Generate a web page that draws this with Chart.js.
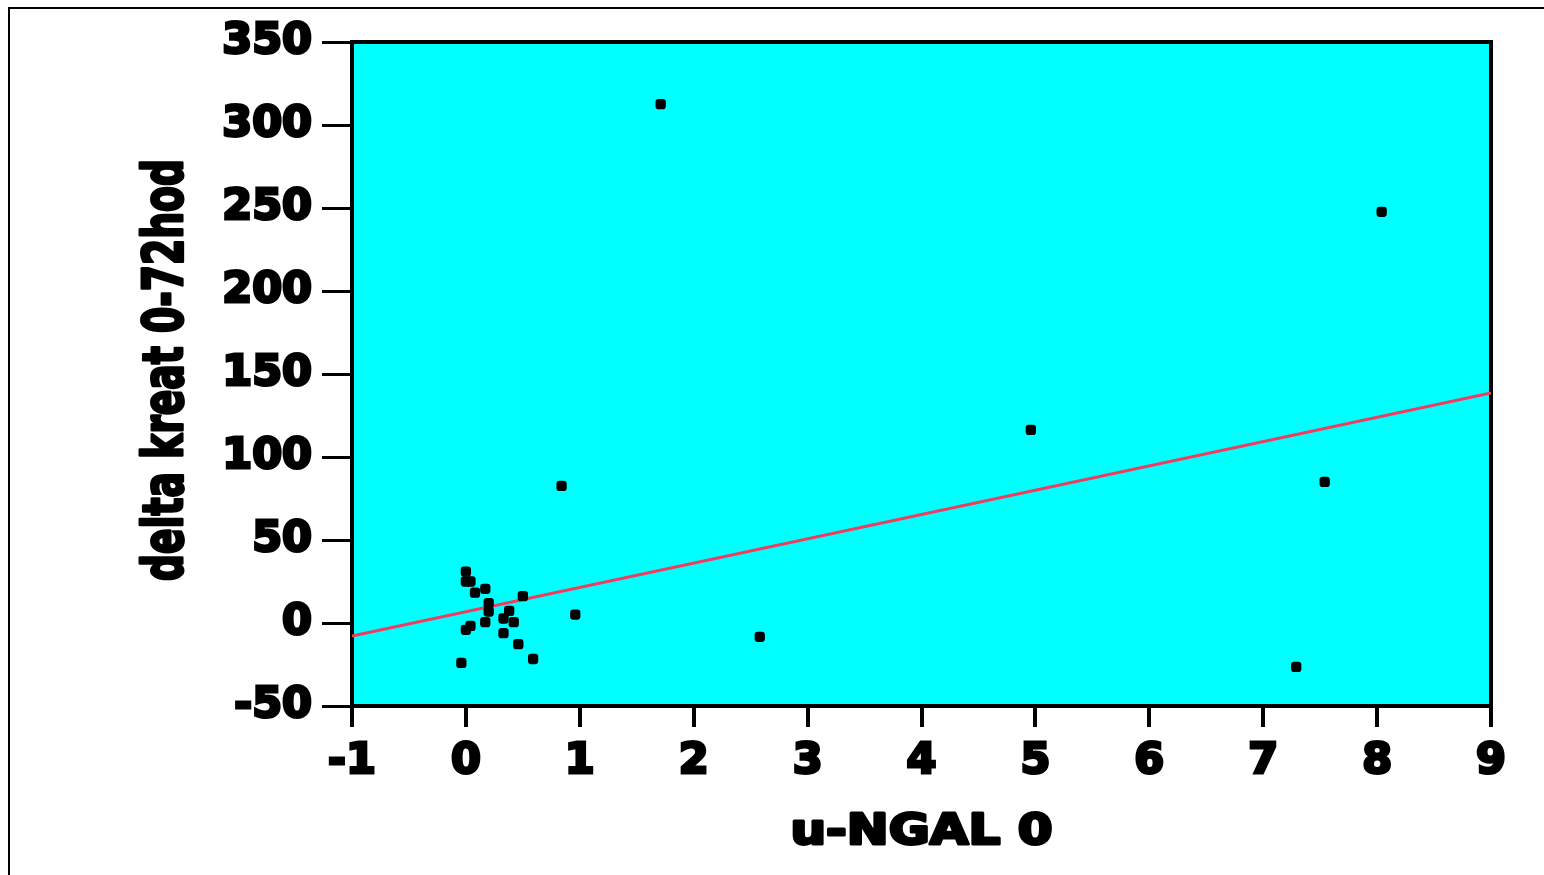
<!DOCTYPE html>
<html>
<head>
<meta charset="utf-8">
<script src="https://cdn.jsdelivr.net/npm/chart.js@4"></script>
<style>
    html, body { margin: 0; padding: 0; background: #ffffff; }
    #box { width: 1544px; height: 875px; }
</style>
</head>
<body>
<div id="box"><canvas id="scatterChart"></canvas></div>
<script>
// u-NGAL 0 values and delta kreat 0-72hod
var ngal = [0.00, 0.00, 0.04, 0.08, 0.17, 0.50, 0.20, 0.20, 0.38, 0.33, 0.42, 0.17, 0.04, 0.00, 0.33, 0.46, 0.59, -0.04, 0.96,
            1.71, 0.84, 2.58, 4.96, 7.29, 7.54, 8.04];
var kreat = [31.0, 25.0, 25.0, 18.3, 20.6, 16.2, 11.9, 6.9, 7.3, 2.7, 0.5, 0.5, -1.7, -4.1, -6.1, -12.7, -21.7, -24.0, 5.1,
             312.6, 82.6, -8.3, 116.3, -26.4, 85.0, 247.7];

// fitted line end points
var fitX = [-1, 9];
var fitY = [-7.8, 138.5];

var xTicks = [-1, 0, 1, 2, 3, 4, 5, 6, 7, 8, 9];
var yTicks = [-50, 0, 50, 100, 150, 200, 250, 300, 350];

var xTitle = "u-NGAL 0";
var yTitle = "delta kreat 0-72hod";

var points = [];
for (var i = 0; i < ngal.length; i++)
{
    points.push({x: ngal[i], y: kreat[i]});
}
var fitPoints = [];
for (var j = 0; j < fitX.length; j++)
{
    fitPoints.push({x: fitX[j], y: fitY[j]});
}

var fontFamily = "'DejaVu Sans', sans-serif";

function heavyText(ctx, text)
{
    ctx.lineWidth = 3;
    ctx.lineJoin = 'round';
    ctx.strokeText(text, 0, 0);
    ctx.fillText(text, 0, 0);
}

// cyan plot box, black frame, page frame and the axis titles
var framePlugin = {
    id: 'framePlugin',
    beforeDraw: function (chart) {
        var ctx = chart.ctx;
        var a = chart.chartArea;
        ctx.save();
        ctx.fillStyle = '#00ffff';
        ctx.fillRect(a.left, a.top, a.right - a.left, a.bottom - a.top);
        ctx.strokeStyle = '#000000';
        ctx.lineWidth = 2;
        ctx.strokeRect(9, 8, 1600, 900);
        ctx.restore();
    },
    beforeDatasetsDraw: function (chart) {
        var ctx = chart.ctx;
        var a = chart.chartArea;
        ctx.save();
        ctx.strokeStyle = '#000000';
        ctx.lineWidth = 4;
        ctx.strokeRect(a.left, a.top, a.right - a.left, a.bottom - a.top);
        ctx.restore();
    },
    afterDraw: function (chart) {
        var ctx = chart.ctx;
        var a = chart.chartArea;
        ctx.save();
        ctx.fillStyle = '#000000';
        ctx.strokeStyle = '#000000';
        ctx.textAlign = 'center';
        ctx.textBaseline = 'alphabetic';

        // x title, stretched a little like the wide original face
        ctx.font = "bold 43px " + fontFamily;
        var w = ctx.measureText(xTitle).width;
        ctx.save();
        ctx.translate((a.left + a.right) / 2, 844);
        ctx.scale(262 / w, 1);
        heavyText(ctx, xTitle);
        ctx.restore();

        // y title, condensed along its length
        ctx.font = "bold 56px " + fontFamily;
        var h = ctx.measureText(yTitle).width;
        ctx.save();
        ctx.translate(182, 370);
        ctx.rotate(-Math.PI / 2);
        ctx.scale(422 / h, 1);
        heavyText(ctx, yTitle);
        ctx.restore();

        ctx.restore();
    }
};

var chart = new Chart(document.getElementById("scatterChart"), {
    type: 'scatter',
    data: {
        datasets: [{
            label: 'data',
            data: points,
            pointStyle: 'rectRounded',
            pointRadius: 6,
            pointHoverRadius: 6,
            backgroundColor: '#000000',
            borderColor: '#000000',
            borderWidth: 0,
            order: 1
        },
        {
            label: 'fit',
            type: 'line',
            data: fitPoints,
            borderColor: '#f03c5f',
            borderWidth: 3,
            pointRadius: 0,
            fill: false,
            order: 2
        }]
    },
    options: {
        responsive: true,
        maintainAspectRatio: false,
        animation: false,
        layout: {
            padding: {left: 0, top: 42, right: 53, bottom: 0}
        },
        plugins: {
            legend: {display: false},
            tooltip: {enabled: false}
        },
        scales: {
            x: {
                type: 'linear',
                min: -1,
                max: 9,
                afterBuildTicks: function (scale) {
                    scale.ticks = xTicks.map(function (v) { return {value: v}; });
                },
                afterFit: function (scale) {
                    scale.height = 875 - 706;
                },
                grid: {
                    drawOnChartArea: false,
                    color: '#000000',
                    lineWidth: 4,
                    tickLength: 21
                },
                border: {display: false},
                ticks: {
                    color: '#000000',
                    textStrokeColor: '#000000',
                    textStrokeWidth: 3,
                    padding: 9,
                    maxRotation: 0,
                    font: {family: fontFamily, size: 43, weight: 'bold'}
                }
            },
            y: {
                type: 'linear',
                min: -50,
                max: 350,
                afterBuildTicks: function (scale) {
                    scale.ticks = yTicks.map(function (v) { return {value: v}; });
                },
                afterFit: function (scale) {
                    scale.width = 352;
                },
                grid: {
                    drawOnChartArea: false,
                    color: '#000000',
                    lineWidth: 3,
                    tickLength: 30
                },
                border: {display: false},
                ticks: {
                    color: '#000000',
                    textStrokeColor: '#000000',
                    textStrokeWidth: 3,
                    padding: 10,
                    font: {family: fontFamily, size: 43, weight: 'bold'}
                }
            }
        }
    },
    plugins: [framePlugin]
});
</script>
</body>
</html>
